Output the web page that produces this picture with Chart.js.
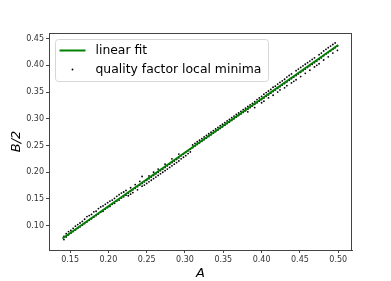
<!DOCTYPE html>
<html>
<head>
<meta charset="utf-8">
<script src="https://cdn.jsdelivr.net/npm/chart.js@4"></script>
<style>
  html, body { margin: 0; padding: 0; background: #fff; }
  #wrap { width: 391px; height: 281px; }
</style>
</head>
<body>
<div id="wrap"><canvas id="chart" width="391" height="281"></canvas></div>
<script>
// linear fit end points
const fitA = [0.14, 0.50];
const fitB = [0.076, 0.438];

// quality factor local minima: each row is [A, B/2 values at that A...]
const minimaRows = [
  [0.142, 0.080, 0.074], [0.145, 0.085, 0.079], [0.148, 0.083, 0.089],
  [0.151, 0.086, 0.091], [0.154, 0.089, 0.095], [0.157, 0.092, 0.099],
  [0.160, 0.095, 0.102], [0.163, 0.105, 0.098], [0.166, 0.101, 0.108],
  [0.169, 0.104, 0.112], [0.172, 0.107, 0.117], [0.175, 0.110, 0.119],
  [0.178, 0.113, 0.121], [0.181, 0.116, 0.126], [0.184, 0.119, 0.127],
  [0.187, 0.122, 0.132], [0.190, 0.125, 0.135], [0.193, 0.127, 0.137],
  [0.196, 0.131, 0.140], [0.199, 0.134, 0.143], [0.202, 0.136, 0.146],
  [0.205, 0.140, 0.148], [0.208, 0.142, 0.151], [0.211, 0.146, 0.155],
  [0.214, 0.148, 0.158], [0.217, 0.152, 0.161], [0.220, 0.154, 0.163],
  [0.223, 0.157, 0.166], [0.226, 0.161, 0.156], [0.229, 0.164, 0.171, 0.159],
  [0.232, 0.167, 0.162], [0.235, 0.170, 0.177], [0.238, 0.173, 0.167],
  [0.241, 0.176, 0.183], [0.244, 0.179, 0.174, 0.192], [0.247, 0.182, 0.176],
  [0.250, 0.185, 0.179], [0.253, 0.188, 0.182, 0.193], [0.256, 0.191, 0.185],
  [0.259, 0.194, 0.188, 0.200], [0.262, 0.197, 0.191], [0.265, 0.200, 0.194, 0.206],
  [0.268, 0.203, 0.197], [0.271, 0.206, 0.200], [0.274, 0.209, 0.203, 0.215],
  [0.277, 0.212, 0.206], [0.280, 0.215, 0.209], [0.283, 0.218, 0.212, 0.225],
  [0.286, 0.221, 0.215], [0.289, 0.224, 0.218], [0.292, 0.227, 0.221, 0.234],
  [0.295, 0.231, 0.225], [0.298, 0.234, 0.228], [0.301, 0.237, 0.231],
  [0.304, 0.240, 0.235], [0.307, 0.243, 0.238], [0.310, 0.246, 0.251],
  [0.313, 0.249, 0.254], [0.316, 0.252, 0.257], [0.319, 0.255, 0.260],
  [0.322, 0.258, 0.263], [0.325, 0.261, 0.266], [0.328, 0.264, 0.269],
  [0.331, 0.267, 0.272], [0.334, 0.270, 0.275], [0.337, 0.273, 0.278],
  [0.340, 0.276, 0.281], [0.343, 0.279, 0.284], [0.346, 0.282, 0.287],
  [0.349, 0.285, 0.290], [0.352, 0.288, 0.293], [0.355, 0.291, 0.296],
  [0.358, 0.294, 0.299], [0.361, 0.297, 0.302], [0.364, 0.300, 0.305],
  [0.367, 0.303, 0.308], [0.370, 0.306, 0.311], [0.373, 0.309, 0.314],
  [0.376, 0.312, 0.317], [0.379, 0.315, 0.320], [0.382, 0.318, 0.323, 0.313],
  [0.385, 0.321, 0.326], [0.388, 0.324, 0.329], [0.391, 0.327, 0.332, 0.321],
  [0.394, 0.330, 0.336], [0.397, 0.333, 0.339], [0.400, 0.336, 0.342, 0.330],
  [0.403, 0.339, 0.346, 0.333], [0.406, 0.342, 0.349], [0.409, 0.345, 0.352, 0.339],
  [0.412, 0.348, 0.355], [0.415, 0.351, 0.359, 0.344], [0.418, 0.354, 0.361],
  [0.421, 0.357, 0.365, 0.350], [0.424, 0.360, 0.368, 0.354], [0.427, 0.363, 0.371],
  [0.430, 0.366, 0.374, 0.358], [0.433, 0.369, 0.378, 0.362], [0.436, 0.372, 0.381],
  [0.439, 0.375, 0.384, 0.367], [0.442, 0.378, 0.370], [0.445, 0.381, 0.390, 0.373],
  [0.448, 0.384, 0.393], [0.451, 0.387, 0.396, 0.379], [0.454, 0.390, 0.399],
  [0.457, 0.393, 0.402, 0.385], [0.460, 0.396, 0.405], [0.463, 0.399, 0.408, 0.391],
  [0.466, 0.402, 0.411], [0.469, 0.405, 0.414, 0.397], [0.472, 0.408, 0.400],
  [0.475, 0.411, 0.420, 0.403], [0.478, 0.414, 0.423], [0.481, 0.418, 0.427, 0.410],
  [0.484, 0.421, 0.430], [0.487, 0.424, 0.433, 0.416], [0.490, 0.427, 0.436],
  [0.493, 0.430, 0.439, 0.423], [0.496, 0.433, 0.442], [0.499, 0.436, 0.428]
];

const xTicks = [0.15, 0.20, 0.25, 0.30, 0.35, 0.40, 0.45, 0.50];
const xTickLabels = ['0.15', '0.20', '0.25', '0.30', '0.35', '0.40', '0.45', '0.50'];
const yTicks = [0.10, 0.15, 0.20, 0.25, 0.30, 0.35, 0.40, 0.45];
const yTickLabels = ['0.10', '0.15', '0.20', '0.25', '0.30', '0.35', '0.40', '0.45'];

const labels = ['linear fit', 'quality factor local minima'];

const minimaPoints = [];
minimaRows.forEach(row => {
  for (let i = 1; i < row.length; i++) minimaPoints.push({ x: row[0], y: row[i] });
});
const fitPoints = fitA.map((a, i) => ({ x: a, y: fitB[i] }));

const FONT = "'DejaVu Sans', sans-serif";
const AXIS = '#444';

// matplotlib-ish frame and legend box inside the axes
const frameAndLegend = {
  id: 'frameAndLegend',
  afterDraw(chart) {
    const { ctx, chartArea: a } = chart;
    ctx.save();
    ctx.strokeStyle = AXIS;
    ctx.lineWidth = 1;
    ctx.strokeRect(a.left + 0.5, a.top + 0.5, a.right - a.left - 1, a.bottom - a.top);

    const bx = a.left + 6.5, by = a.top + 6.5, bw = 213, bh = 42;
    ctx.fillStyle = 'rgba(255,255,255,0.8)';
    ctx.strokeStyle = '#d6d6d6';
    ctx.beginPath();
    ctx.roundRect(bx, by, bw, bh, 3);
    ctx.fill();
    ctx.stroke();

    ctx.strokeStyle = '#008000';
    ctx.lineWidth = 2;
    ctx.beginPath();
    ctx.moveTo(bx + 4, by + 11);
    ctx.lineTo(bx + 30, by + 11);
    ctx.stroke();

    ctx.fillStyle = '#000';
    ctx.beginPath();
    ctx.arc(bx + 17, by + 30, 0.9, 0, Math.PI * 2);
    ctx.fill();

    ctx.font = "12.4px " + FONT;
    ctx.textBaseline = 'middle';
    ctx.fillText(labels[0], bx + 40, by + 11);
    ctx.fillText(labels[1], bx + 40, by + 30);
    ctx.restore();
  }
};

new Chart(document.getElementById('chart'), {
  type: 'scatter',
  data: {
    datasets: [
      {
        label: labels[0],
        type: 'line',
        data: fitPoints,
        borderColor: '#008000',
        borderWidth: 1.8,
        pointRadius: 0,
        fill: false,
        order: 0
      },
      {
        label: labels[1],
        data: minimaPoints,
        backgroundColor: '#000',
        borderWidth: 0,
        pointRadius: 0.9,
        order: 1
      }
    ]
  },
  options: {
    responsive: false,
    animation: false,
    layout: { padding: { left: 0, right: 39, top: 33, bottom: 0 } },
    plugins: { legend: { display: false }, tooltip: { enabled: false } },
    scales: {
      x: {
        type: 'linear',
        min: 0.1225,
        max: 0.518,
        afterBuildTicks: s => { s.ticks = xTicks.map(v => ({ value: v })); },
        afterFit: s => { s.height = 31; },
        grid: { drawOnChartArea: false, drawTicks: true, tickLength: 3, tickColor: AXIS },
        border: { color: AXIS, width: 1 },
        ticks: { color: '#333', font: { family: FONT, size: 8 }, padding: 2, maxRotation: 0,
                 autoSkip: false, callback: (v, i) => xTickLabels[i] },
        title: { display: true, text: 'A', color: '#000', padding: { top: 4, bottom: 0 },
                 font: { family: FONT, size: 13, style: 'italic' } }
      },
      y: {
        type: 'linear',
        min: 0.0545,
        max: 0.4605,
        afterBuildTicks: s => { s.ticks = yTicks.map(v => ({ value: v })); },
        afterFit: s => { s.width = 49; },
        grid: { drawOnChartArea: false, drawTicks: true, tickLength: 3, tickColor: AXIS },
        border: { color: AXIS, width: 1 },
        ticks: { color: '#333', font: { family: FONT, size: 8 }, padding: 2, autoSkip: false,
                 callback: (v, i) => yTickLabels[i] },
        title: { display: true, text: 'B/2', color: '#000', padding: { top: 9, bottom: 0 },
                 font: { family: FONT, size: 13, style: 'italic' } }
      }
    }
  },
  plugins: [frameAndLegend]
});
</script>
</body>
</html>
